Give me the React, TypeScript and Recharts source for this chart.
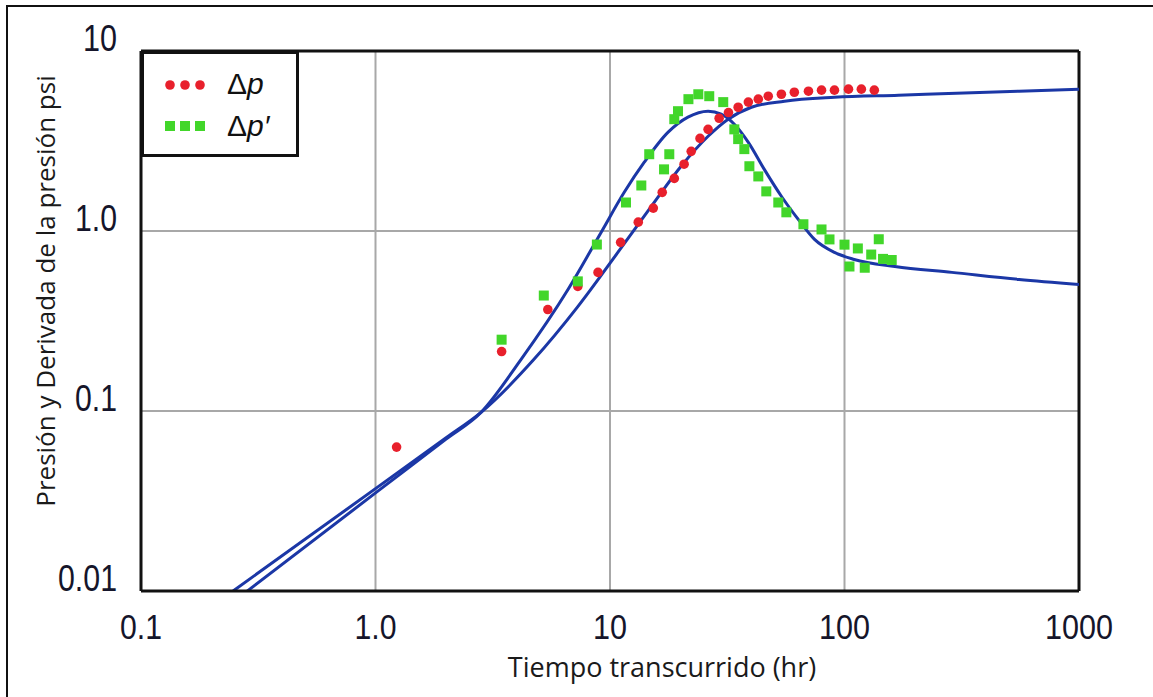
import { CartesianGrid, ComposedChart, Legend, Line, ReferenceLine, Scatter, XAxis, YAxis } from 'recharts';

// measured data
const dpTimes = [1.23, 3.45, 5.43, 7.29, 8.89, 11.1, 13.2, 15.3, 16.7, 18.8, 20.7, 22.2, 24.2, 26.2, 29.2, 32.0, 35.2, 38.9, 42.9, 47.3, 53.8, 61.1, 70.2, 79.8, 90.6, 104, 118, 134];
const dpValues = [0.063, 0.214, 0.366, 0.492, 0.589, 0.865, 1.12, 1.34, 1.64, 1.96, 2.35, 2.77, 3.27, 3.67, 4.23, 4.55, 4.87, 5.2, 5.4, 5.61, 5.75, 5.9, 5.98, 6.06, 6.06, 6.14, 6.14, 6.06];

const derivTimes = [3.45, 5.22, 7.29, 8.79, 11.7, 13.6, 14.7, 17.0, 17.9, 18.8, 19.5, 21.6, 23.8, 26.5, 30.4, 33.9, 35.2, 37.4, 39.3, 42.9, 46.4, 52.2, 56.5, 66.8, 79.8, 86.3, 100, 105, 114, 122, 130, 140, 146, 159];
const derivValues = [0.249, 0.438, 0.525, 0.841, 1.44, 1.79, 2.67, 2.2, 2.67, 4.18, 4.63, 5.4, 5.75, 5.61, 5.2, 3.67, 3.24, 2.85, 2.29, 2.01, 1.66, 1.44, 1.27, 1.09, 1.02, 0.898, 0.84, 0.635, 0.8, 0.625, 0.74, 0.9, 0.7, 0.69];

// model curves
const modelPTimes = [0.247, 1.01, 2.0, 2.81, 4.73, 7.29, 10.8, 15.0, 20.1, 26.2, 31.9, 40.1, 55.5, 90.6, 170, 555, 1000];
const modelPValues = [0.01, 0.0374, 0.071, 0.0979, 0.193, 0.38, 0.76, 1.37, 2.29, 3.36, 4.18, 4.87, 5.26, 5.53, 5.68, 5.98, 6.14];

const modelDTimes = [0.284, 1.01, 2.0, 2.81, 4.17, 6.62, 9.16, 11.5, 14.0, 17.7, 21.5, 26.2, 29.8, 33.9, 38.9, 45.5, 53.8, 63.5, 74.5, 90.6, 110, 164, 287, 555, 1000];
const modelDValues = [0.01, 0.0354, 0.0698, 0.0979, 0.193, 0.473, 0.982, 1.64, 2.41, 3.54, 4.29, 4.63, 4.46, 3.92, 3.11, 2.2, 1.56, 1.16, 0.898, 0.76, 0.695, 0.635, 0.589, 0.538, 0.505];

const xTicks = [0.1, 1, 10, 100, 1000];
const yTicks = [0.01, 0.1, 1, 10];

const zip = (xs: number[], ys: number[]) => xs.map((x, i) => ({ x, y: ys[i] }));

const dpData = zip(dpTimes, dpValues);
const derivData = zip(derivTimes, derivValues);
const modelP = zip(modelPTimes, modelPValues);
const modelD = zip(modelDTimes, modelDValues);

const RED = '#e8202c';
const GREEN = '#42d62a';
const BLUE = '#1b37a6';
const tickFont = "'Liberation Sans', sans-serif";
const labelFont = "'Open Sans', 'Noto Sans', sans-serif";

const fmt = (v: number) => (v === 1 ? '1.0' : String(v));
// narrow look of the original numbers: squeeze each label to its measured width
const tickWidth = (s: string) => s.replace(/\./g, '').length * 17 + (s.includes('.') ? 8 : 0);

function XTick({ x, y, payload }: any) {
  const s = fmt(payload.value);
  return (
    <text
      x={x}
      y={y}
      dy="0.71em"
      textAnchor="middle"
      fontFamily={tickFont}
      fontSize={35}
      fill="#15152a"
      textLength={tickWidth(s)}
      lengthAdjust="spacingAndGlyphs"
    >
      {s}
    </text>
  );
}

function YTick({ x, y, payload }: any) {
  const s = fmt(payload.value);
  return (
    <text
      x={x}
      y={y - 13}
      dy="0.36em"
      textAnchor="end"
      fontFamily={tickFont}
      fontSize={36}
      fill="#15152a"
      textLength={tickWidth(s)}
      lengthAdjust="spacingAndGlyphs"
    >
      {s}
    </text>
  );
}

function LegendBox() {
  return (
    <svg width={158} height={106} style={{ display: 'block' }}>
      <rect x={1.5} y={1.5} width={155} height={103} fill="#fff" stroke="#111" strokeWidth={3} />
      {[29, 44, 59].map((cx) => (
        <circle key={cx} cx={cx} cy={34} r={4.8} fill={RED} />
      ))}
      {[29, 44, 59].map((cx) => (
        <rect key={cx} x={cx - 5} y={70} width={10} height={10} fill={GREEN} />
      ))}
      <text x={86} y={43} fontFamily="'Liberation Sans', sans-serif" fontSize={30} fill="#111">
        Δ<tspan fontStyle="italic">p</tspan>
      </text>
      <text x={86} y={85} fontFamily="'Liberation Sans', sans-serif" fontSize={30} fill="#111">
        Δ<tspan fontStyle="italic">p′</tspan>
      </text>
    </svg>
  );
}

export default function App() {
  return (
    <div style={{ position: 'absolute', left: 0, top: 0, width: 1153, height: 697, background: '#fff', overflow: 'hidden' }}>
      <div
        style={{
          position: 'absolute',
          left: 6,
          top: 5,
          width: 1300,
          height: 900,
          borderTop: '2px solid #111',
          borderLeft: '2px solid #111',
        }}
      />
      <div style={{ position: 'absolute', left: 0, top: 0 }}>
        <ComposedChart width={1153} height={697} margin={{ top: 51, right: 74, bottom: 46, left: 0 }}>
          <CartesianGrid stroke="#a8a8a8" strokeWidth={2} />
          <XAxis
            type="number"
            dataKey="x"
            scale="log"
            domain={[0.1, 1000]}
            ticks={xTicks}
            allowDataOverflow
            height={60}
            tickSize={0}
            tickMargin={23}
            tick={<XTick />}
            axisLine={{ stroke: '#111', strokeWidth: 3 }}
            label={{
              content: ({ viewBox }: any) => (
                <text
                  x={viewBox.x + viewBox.width / 2 + 52}
                  y={677}
                  textAnchor="middle"
                  fontFamily={labelFont}
                  fontSize={27}
                  fill="#1a1a1a"
                >
                  Tiempo transcurrido (hr)
                </text>
              ),
            }}
          />
          <YAxis
            type="number"
            dataKey="y"
            scale="log"
            domain={[0.01, 10]}
            ticks={yTicks}
            allowDataOverflow
            width={141}
            tickSize={0}
            tickMargin={24}
            tick={<YTick />}
            axisLine={{ stroke: '#111', strokeWidth: 3 }}
            label={{
              content: () => (
                <text
                  x={55}
                  y={291}
                  transform="rotate(-90 55 291)"
                  textAnchor="middle"
                  fontFamily={labelFont}
                  fontSize={26}
                  fill="#1a1a1a"
                >
                  Presión y Derivada de la presión psi
                </text>
              ),
            }}
          />
          <ReferenceLine x={1000} stroke="#111" strokeWidth={3} />
          <ReferenceLine y={10} stroke="#111" strokeWidth={3} />
          <Scatter
            name="Δp"
            data={dpData}
            isAnimationActive={false}
            shape={(p: any) => <circle cx={p.cx} cy={p.cy} r={4.8} fill={RED} />}
          />
          <Scatter
            name="Δp′"
            data={derivData}
            isAnimationActive={false}
            shape={(p: any) => <rect x={p.cx - 5} y={p.cy - 5} width={10} height={10} fill={GREEN} />}
          />
          <Line data={modelP} dataKey="y" type="monotone" stroke={BLUE} strokeWidth={3} dot={false} isAnimationActive={false} />
          <Line data={modelD} dataKey="y" type="monotone" stroke={BLUE} strokeWidth={3} dot={false} isAnimationActive={false} />
          <Legend
            layout="horizontal"
            verticalAlign="middle"
            align="center"
            content={() => <LegendBox />}
            wrapperStyle={{ left: 141, top: 51, width: 158, height: 106 }}
          />
        </ComposedChart>
      </div>
    </div>
  );
}
